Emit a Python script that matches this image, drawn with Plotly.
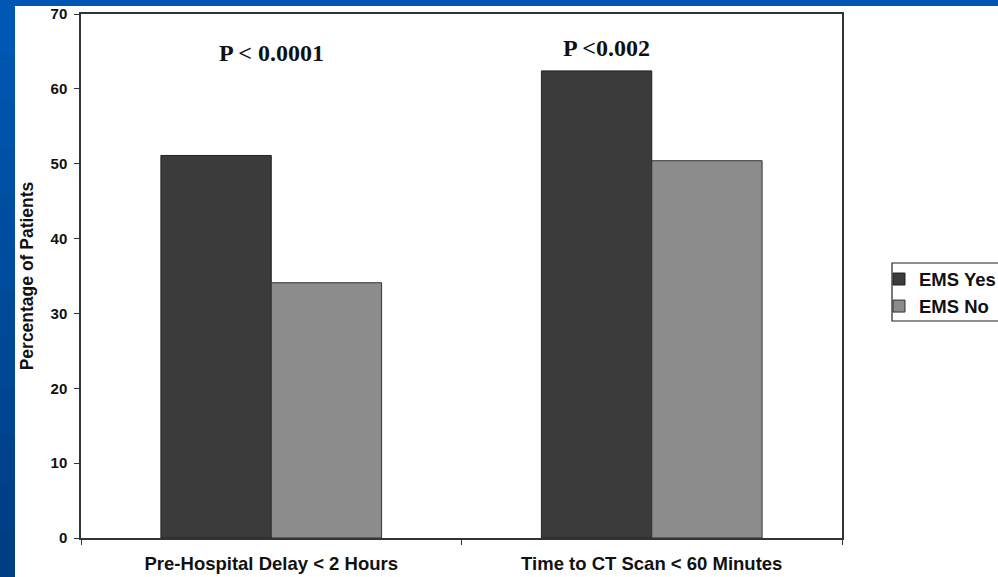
import plotly.graph_objects as go

categories = ["Pre-Hospital Delay < 2 Hours", "Time to CT Scan < 60 Minutes"]
ems_yes = [51.1, 62.4]
ems_no = [34.1, 50.4]
p_labels = ["P < 0.0001", "P <0.002"]
p_label_x = [0.0, 0.88]
p_label_y = [64.8, 65.4]
y_ticks = [0, 10, 20, 30, 40, 50, 60, 70]

W, H = 998, 577
L, R, T, B = 81, 156, 14, 39
pw, ph = W - L - R, H - T - B

def px_x(v):
    return (v - L) / pw

def px_y(v):
    return (H - B - v) / ph

fig = go.Figure()
fig.add_trace(go.Bar(name="EMS Yes", x=categories, y=ems_yes,
                     marker=dict(color="#3b3b3b", line=dict(color="#222222", width=1))))
fig.add_trace(go.Bar(name="EMS No", x=categories, y=ems_no,
                     marker=dict(color="#8c8c8c", line=dict(color="#333333", width=1))))

shapes = []
# white page on blue background
shapes.append(dict(type="rect", xref="paper", yref="paper", layer="below",
                   x0=px_x(15), x1=px_x(W + 5), y0=px_y(H + 5), y1=px_y(6),
                   fillcolor="white", line=dict(width=0)))
# left blue strip gradient bands
n = 12
for i in range(n):
    t = i / (n - 1)
    g = int(0x58 + (0x3e - 0x58) * t)
    b = int(0xb4 + (0x84 - 0xb4) * t)
    y0p = 6 + (H - 6) * i / n
    y1p = 6 + (H - 6) * (i + 1) / n
    shapes.append(dict(type="rect", xref="paper", yref="paper", layer="below",
                       x0=px_x(-2), x1=px_x(15), y0=px_y(y1p + 1), y1=px_y(y0p),
                       fillcolor=f"rgb(0,{g},{b})", line=dict(width=0)))
# legend frame
shapes.append(dict(type="rect", xref="paper", yref="paper",
                   x0=px_x(892), x1=px_x(W + 10), y0=px_y(321), y1=px_y(263),
                   line=dict(color="#222222", width=1.2), fillcolor="rgba(0,0,0,0)"))

annotations = []
for txt, xv, yv in zip(p_labels, p_label_x, p_label_y):
    annotations.append(dict(x=xv, y=yv, xref="x", yref="y", text=txt, showarrow=False,
                            font=dict(family="Liberation Serif", size=24, color="#111111", weight="bold")))

fig.update_layout(
    width=W, height=H,
    margin=dict(l=L, r=R, t=T, b=B, autoexpand=False),
    paper_bgcolor="#0056b2",
    plot_bgcolor="white",
    barmode="group",
    bargap=0.42,
    bargroupgap=0,
    shapes=shapes,
    annotations=annotations,
    font=dict(family="Liberation Sans", color="#111111"),
    legend=dict(x=px_x(879), y=px_y(293), xanchor="left", yanchor="middle",
                borderwidth=0, bgcolor="rgba(0,0,0,0)",
                font=dict(family="Liberation Sans", size=18.5, weight="bold", color="#111111"),
                tracegroupgap=0, itemwidth=30),
    xaxis=dict(showline=True, linecolor="#333333", linewidth=1.5, mirror=True,
               ticks="outside", tickson="boundaries", ticklen=5, tickcolor="#333333",
               tickfont=dict(size=18.5, weight="bold", family="Liberation Sans"),
               ticklabelstandoff=8, showgrid=False, automargin=False),
    yaxis=dict(range=[0, 70], tickvals=y_ticks, showline=True, linecolor="#333333",
               linewidth=1.5, mirror=True, ticks="outside", ticklen=5, tickcolor="#333333",
               tickfont=dict(size=15, weight="bold", family="Liberation Sans"),
               ticklabelstandoff=4,
               showgrid=False, zeroline=False, automargin=False,
               title=dict(text="Percentage of Patients", standoff=12,
                          font=dict(size=17.5, weight="bold", family="Liberation Sans"))),
)

fig.write_html("out.html", config={"displayModeBar": False},
               post_script="document.body.style.margin='0px';document.body.style.overflow='hidden';")
